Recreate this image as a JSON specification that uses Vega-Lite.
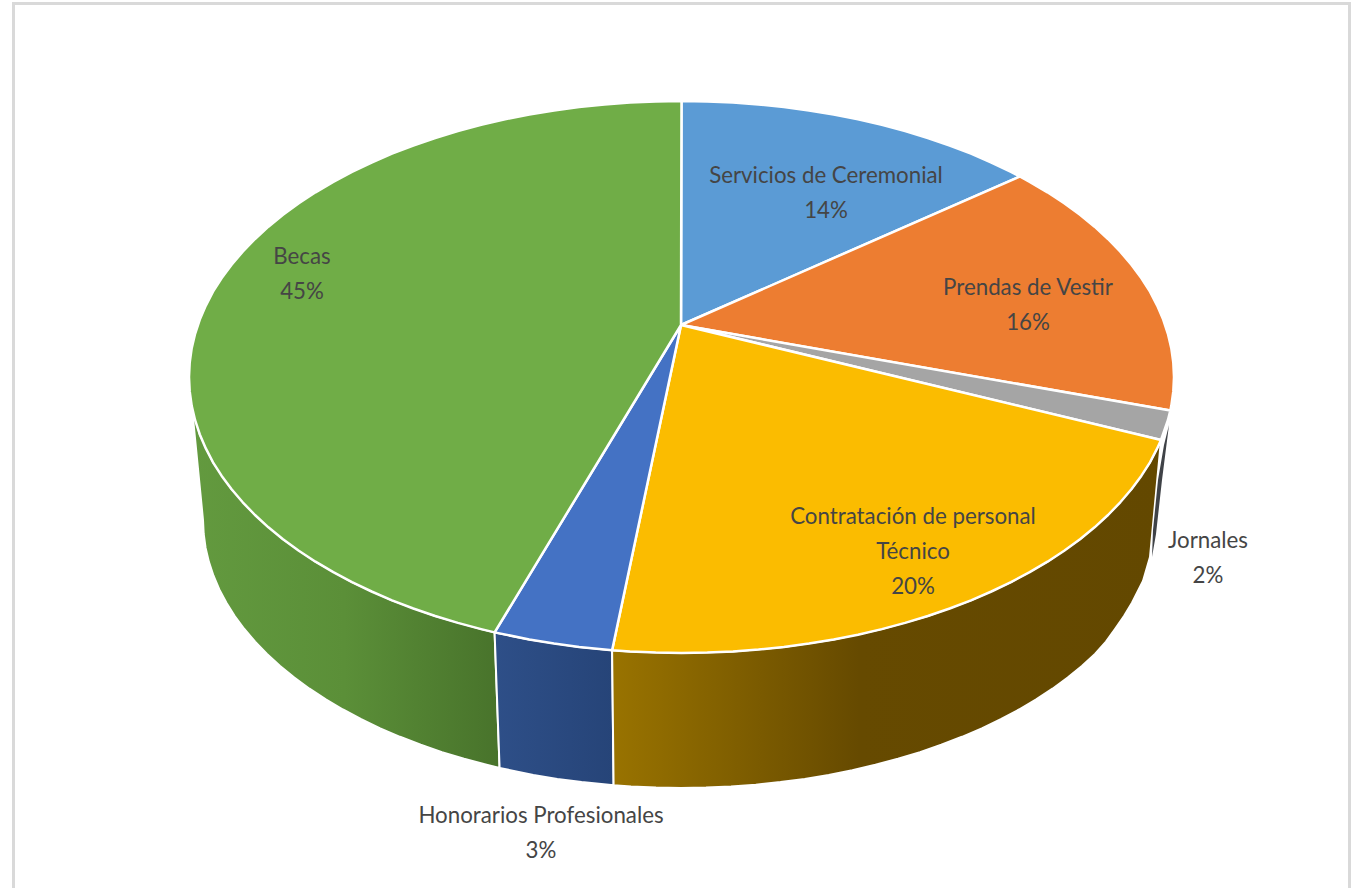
{"$schema":"https://vega.github.io/schema/vega-lite/v6.json","width":1360,"height":888,"padding":0,"autosize":"none","background":"white","view":{"stroke":null},
"datasets":{
"top":[
{"s":"Servicios de Ceremonial","i":0,"x":1,"y":119},{"s":"Servicios de Ceremonial","i":1,"x":1.5,"y":343},{"s":"Servicios de Ceremonial","i":2,"x":27.3,"y":342.6},{"s":"Servicios de Ceremonial","i":3,"x":53,"y":341.5},{"s":"Servicios de Ceremonial","i":4,"x":78.5,"y":339.6},{"s":"Servicios de Ceremonial","i":5,"x":103.9,"y":337},{"s":"Servicios de Ceremonial","i":6,"x":129,"y":333.6},{"s":"Servicios de Ceremonial","i":7,"x":153.7,"y":329.5},{"s":"Servicios de Ceremonial","i":8,"x":178,"y":324.7},{"s":"Servicios de Ceremonial","i":9,"x":201.8,"y":319.1},{"s":"Servicios de Ceremonial","i":10,"x":225.1,"y":312.9},{"s":"Servicios de Ceremonial","i":11,"x":247.8,"y":306},{"s":"Servicios de Ceremonial","i":12,"x":269.7,"y":298.5},{"s":"Servicios de Ceremonial","i":13,"x":291,"y":290.3},{"s":"Servicios de Ceremonial","i":14,"x":311.4,"y":281.5},{"s":"Servicios de Ceremonial","i":15,"x":331,"y":272.1},{"s":"Servicios de Ceremonial","i":16,"x":339.8,"y":267.5},{"s":"Servicios de Ceremonial","i":17,"x":1,"y":119},
{"s":"Prendas de Vestir","i":0,"x":1,"y":119},{"s":"Prendas de Vestir","i":1,"x":339.8,"y":267.5},{"s":"Prendas de Vestir","i":2,"x":349.7,"y":262.2},{"s":"Prendas de Vestir","i":3,"x":367.5,"y":251.7},{"s":"Prendas de Vestir","i":4,"x":384.2,"y":240.7},{"s":"Prendas de Vestir","i":5,"x":400,"y":229.2},{"s":"Prendas de Vestir","i":6,"x":414.6,"y":217.3},{"s":"Prendas de Vestir","i":7,"x":428,"y":205},{"s":"Prendas de Vestir","i":8,"x":440.3,"y":192.3},{"s":"Prendas de Vestir","i":9,"x":451.4,"y":179.2},{"s":"Prendas de Vestir","i":10,"x":461.3,"y":165.9},{"s":"Prendas de Vestir","i":11,"x":470,"y":152.3},{"s":"Prendas de Vestir","i":12,"x":477.2,"y":138.4},{"s":"Prendas de Vestir","i":13,"x":483.2,"y":124.4},{"s":"Prendas de Vestir","i":14,"x":487.9,"y":110.2},{"s":"Prendas de Vestir","i":15,"x":491.3,"y":95.8},{"s":"Prendas de Vestir","i":16,"x":493.3,"y":81.4},{"s":"Prendas de Vestir","i":17,"x":494,"y":67},{"s":"Prendas de Vestir","i":18,"x":493.3,"y":52.6},{"s":"Prendas de Vestir","i":19,"x":491.3,"y":38.2},{"s":"Prendas de Vestir","i":20,"x":490.3,"y":33.4},{"s":"Prendas de Vestir","i":21,"x":1,"y":119},
{"s":"Jornales","i":0,"x":1,"y":119},{"s":"Jornales","i":1,"x":490.3,"y":33.4},{"s":"Jornales","i":2,"x":487.9,"y":23.8},{"s":"Jornales","i":3,"x":481,"y":4},{"s":"Jornales","i":4,"x":1,"y":119},
{"s":"Contratación de personal Técnico","i":0,"x":1,"y":119},{"s":"Contratación de personal Técnico","i":1,"x":481,"y":4},{"s":"Contratación de personal Técnico","i":2,"x":477.2,"y":-4.4},{"s":"Contratación de personal Técnico","i":3,"x":470,"y":-18.3},{"s":"Contratación de personal Técnico","i":4,"x":461.3,"y":-31.9},{"s":"Contratación de personal Técnico","i":5,"x":451.4,"y":-45.2},{"s":"Contratación de personal Técnico","i":6,"x":440.3,"y":-58.3},{"s":"Contratación de personal Técnico","i":7,"x":428,"y":-71},{"s":"Contratación de personal Técnico","i":8,"x":414.6,"y":-83.3},{"s":"Contratación de personal Técnico","i":9,"x":400,"y":-95.2},{"s":"Contratación de personal Técnico","i":10,"x":384.2,"y":-106.7},{"s":"Contratación de personal Técnico","i":11,"x":367.5,"y":-117.7},{"s":"Contratación de personal Técnico","i":12,"x":349.7,"y":-128.2},{"s":"Contratación de personal Técnico","i":13,"x":331,"y":-138.1},{"s":"Contratación de personal Técnico","i":14,"x":311.4,"y":-147.5},{"s":"Contratación de personal Técnico","i":15,"x":291,"y":-156.3},{"s":"Contratación de personal Técnico","i":16,"x":269.7,"y":-164.5},{"s":"Contratación de personal Técnico","i":17,"x":247.8,"y":-172},{"s":"Contratación de personal Técnico","i":18,"x":225.1,"y":-178.9},{"s":"Contratación de personal Técnico","i":19,"x":201.8,"y":-185.1},{"s":"Contratación de personal Técnico","i":20,"x":178,"y":-190.7},{"s":"Contratación de personal Técnico","i":21,"x":153.7,"y":-195.5},{"s":"Contratación de personal Técnico","i":22,"x":129,"y":-199.6},{"s":"Contratación de personal Técnico","i":23,"x":103.9,"y":-203},{"s":"Contratación de personal Técnico","i":24,"x":78.5,"y":-205.6},{"s":"Contratación de personal Técnico","i":25,"x":53,"y":-207.5},{"s":"Contratación de personal Técnico","i":26,"x":27.3,"y":-208.6},{"s":"Contratación de personal Técnico","i":27,"x":1.5,"y":-209},{"s":"Contratación de personal Técnico","i":28,"x":-24.3,"y":-208.6},{"s":"Contratación de personal Técnico","i":29,"x":-50,"y":-207.5},{"s":"Contratación de personal Técnico","i":30,"x":-67.9,"y":-206.2},{"s":"Contratación de personal Técnico","i":31,"x":1,"y":119},
{"s":"Honorarios Profesionales","i":0,"x":1,"y":119},{"s":"Honorarios Profesionales","i":1,"x":-67.9,"y":-206.2},{"s":"Honorarios Profesionales","i":2,"x":-100.9,"y":-203},{"s":"Honorarios Profesionales","i":3,"x":-126,"y":-199.6},{"s":"Honorarios Profesionales","i":4,"x":-150.7,"y":-195.5},{"s":"Honorarios Profesionales","i":5,"x":-185.4,"y":-188.4},{"s":"Honorarios Profesionales","i":6,"x":1,"y":119},
{"s":"Becas","i":0,"x":1,"y":119},{"s":"Becas","i":1,"x":-185.4,"y":-188.4},{"s":"Becas","i":2,"x":-198.8,"y":-185.1},{"s":"Becas","i":3,"x":-222.1,"y":-178.9},{"s":"Becas","i":4,"x":-244.8,"y":-172},{"s":"Becas","i":5,"x":-266.7,"y":-164.5},{"s":"Becas","i":6,"x":-288,"y":-156.3},{"s":"Becas","i":7,"x":-308.4,"y":-147.5},{"s":"Becas","i":8,"x":-328,"y":-138.1},{"s":"Becas","i":9,"x":-346.7,"y":-128.2},{"s":"Becas","i":10,"x":-364.5,"y":-117.7},{"s":"Becas","i":11,"x":-381.2,"y":-106.7},{"s":"Becas","i":12,"x":-397,"y":-95.2},{"s":"Becas","i":13,"x":-411.6,"y":-83.3},{"s":"Becas","i":14,"x":-425,"y":-71},{"s":"Becas","i":15,"x":-437.3,"y":-58.3},{"s":"Becas","i":16,"x":-448.4,"y":-45.2},{"s":"Becas","i":17,"x":-458.3,"y":-31.9},{"s":"Becas","i":18,"x":-467,"y":-18.3},{"s":"Becas","i":19,"x":-474.2,"y":-4.4},{"s":"Becas","i":20,"x":-480.2,"y":9.6},{"s":"Becas","i":21,"x":-484.9,"y":23.8},{"s":"Becas","i":22,"x":-488.3,"y":38.2},{"s":"Becas","i":23,"x":-490.3,"y":52.6},{"s":"Becas","i":24,"x":-491,"y":67},{"s":"Becas","i":25,"x":-490.3,"y":81.4},{"s":"Becas","i":26,"x":-488.3,"y":95.8},{"s":"Becas","i":27,"x":-484.9,"y":110.2},{"s":"Becas","i":28,"x":-480.2,"y":124.4},{"s":"Becas","i":29,"x":-474.2,"y":138.4},{"s":"Becas","i":30,"x":-467,"y":152.3},{"s":"Becas","i":31,"x":-458.3,"y":165.9},{"s":"Becas","i":32,"x":-448.4,"y":179.2},{"s":"Becas","i":33,"x":-437.3,"y":192.3},{"s":"Becas","i":34,"x":-425,"y":205},{"s":"Becas","i":35,"x":-411.6,"y":217.3},{"s":"Becas","i":36,"x":-397,"y":229.2},{"s":"Becas","i":37,"x":-381.2,"y":240.7},{"s":"Becas","i":38,"x":-364.5,"y":251.7},{"s":"Becas","i":39,"x":-346.7,"y":262.2},{"s":"Becas","i":40,"x":-328,"y":272.1},{"s":"Becas","i":41,"x":-308.4,"y":281.5},{"s":"Becas","i":42,"x":-288,"y":290.3},{"s":"Becas","i":43,"x":-266.7,"y":298.5},{"s":"Becas","i":44,"x":-244.8,"y":306},{"s":"Becas","i":45,"x":-222.1,"y":312.9},{"s":"Becas","i":46,"x":-198.8,"y":319.1},{"s":"Becas","i":47,"x":-175,"y":324.7},{"s":"Becas","i":48,"x":-150.7,"y":329.5},{"s":"Becas","i":49,"x":-126,"y":333.6},{"s":"Becas","i":50,"x":-100.9,"y":337},{"s":"Becas","i":51,"x":-75.5,"y":339.6},{"s":"Becas","i":52,"x":-50,"y":341.5},{"s":"Becas","i":53,"x":-24.3,"y":342.6},{"s":"Becas","i":54,"x":1.5,"y":343},{"s":"Becas","i":55,"x":1,"y":119}
],
"sideGreen":[
{"i":0,"x":-491,"y":67},{"i":1,"x":-488.3,"y":38.2},{"i":2,"x":-480.2,"y":9.6},{"i":3,"x":-467,"y":-18.3},{"i":4,"x":-448.4,"y":-45.2},{"i":5,"x":-425,"y":-71},{"i":6,"x":-397,"y":-95.2},{"i":7,"x":-364.5,"y":-117.7},{"i":8,"x":-328,"y":-138.1},{"i":9,"x":-288,"y":-156.3},{"i":10,"x":-244.8,"y":-172},{"i":11,"x":-198.8,"y":-185.1},{"i":12,"x":-185.4,"y":-188.4},{"i":13,"x":-180.4,"y":-324},{"i":14,"x":-193.4,"y":-320.8},{"i":15,"x":-216,"y":-314.8},{"i":16,"x":-238,"y":-308.1},{"i":17,"x":-259.3,"y":-300.8},{"i":18,"x":-280,"y":-292.8},{"i":19,"x":-299.8,"y":-284.3},{"i":20,"x":-318.8,"y":-275.2},{"i":21,"x":-337,"y":-265.5},{"i":22,"x":-354.2,"y":-255.3},{"i":23,"x":-370.5,"y":-244.7},{"i":24,"x":-385.7,"y":-233.5},{"i":25,"x":-399.9,"y":-222},{"i":26,"x":-413,"y":-210},{"i":27,"x":-424.9,"y":-197.7},{"i":28,"x":-435.7,"y":-185},{"i":29,"x":-445.3,"y":-172},{"i":30,"x":-453.6,"y":-158.8},{"i":31,"x":-460.7,"y":-145.4},{"i":32,"x":-466.5,"y":-131.7},{"i":33,"x":-471.1,"y":-117.9},{"i":34,"x":-474.4,"y":-104},{"i":35,"x":-476.3,"y":-90},{"i":36,"x":-477,"y":-76},{"i":37,"x":-491,"y":67}
],
"sideBlue":[
{"i":0,"x":-185.4,"y":-188.4},{"i":1,"x":-150.7,"y":-195.5},{"i":2,"x":-100.9,"y":-203},{"i":3,"x":-67.9,"y":-206.2},{"i":4,"x":-66.4,"y":-341.3},{"i":5,"x":-98.4,"y":-338.1},{"i":6,"x":-122.7,"y":-334.9},{"i":7,"x":-146.7,"y":-330.9},{"i":8,"x":-180.4,"y":-324},{"i":9,"x":-185.4,"y":-188.4}
],
"sideGold":[
{"i":0,"x":-67.9,"y":-206.2},{"i":1,"x":-50,"y":-207.5},{"i":2,"x":1.5,"y":-209},{"i":3,"x":53,"y":-207.5},{"i":4,"x":103.9,"y":-203},{"i":5,"x":153.7,"y":-195.5},{"i":6,"x":201.8,"y":-185.1},{"i":7,"x":247.8,"y":-172},{"i":8,"x":291,"y":-156.3},{"i":9,"x":331,"y":-138.1},{"i":10,"x":367.5,"y":-117.7},{"i":11,"x":400,"y":-95.2},{"i":12,"x":428,"y":-71},{"i":13,"x":451.4,"y":-45.2},{"i":14,"x":470,"y":-18.3},{"i":15,"x":481,"y":4},{"i":16,"x":470,"y":-113},{"i":17,"x":463,"y":-137},{"i":18,"x":452,"y":-158.8},{"i":19,"x":444,"y":-172},{"i":20,"x":435,"y":-185},{"i":21,"x":426,"y":-197.7},{"i":22,"x":415,"y":-210},{"i":23,"x":401.9,"y":-222},{"i":24,"x":387.7,"y":-233.5},{"i":25,"x":372.5,"y":-244.7},{"i":26,"x":356.2,"y":-255.3},{"i":27,"x":339,"y":-265.5},{"i":28,"x":320.8,"y":-275.2},{"i":29,"x":301.8,"y":-284.3},{"i":30,"x":282,"y":-292.8},{"i":31,"x":261.3,"y":-300.8},{"i":32,"x":240,"y":-308.1},{"i":33,"x":218,"y":-314.8},{"i":34,"x":195.4,"y":-320.8},{"i":35,"x":172.3,"y":-326.2},{"i":36,"x":148.7,"y":-330.9},{"i":37,"x":124.7,"y":-334.9},{"i":38,"x":100.4,"y":-338.1},{"i":39,"x":75.8,"y":-340.7},{"i":40,"x":51,"y":-342.5},{"i":41,"x":26,"y":-343.6},{"i":42,"x":1,"y":-344},{"i":43,"x":-24,"y":-343.6},{"i":44,"x":-49,"y":-342.5},{"i":45,"x":-66.4,"y":-341.3},{"i":46,"x":-67.9,"y":-206.2}
],
"sideGrey":[
{"i":0,"x":489,"y":19},{"i":1,"x":482,"y":-36},{"i":2,"x":476,"y":-90},{"i":3,"x":472,"y":-113},{"i":4,"x":473,"y":-86},{"i":5,"x":478,"y":-36},{"i":6,"x":484,"y":-1},{"i":7,"x":489,"y":19}
],
"frame":[
{"i":0,"x":-666.5,"y":-444},{"i":1,"x":-666.5,"y":440.5},{"i":2,"x":669.5,"y":440.5},{"i":3,"x":669.5,"y":-444}
],
"labels":[
{"label":"Servicios de Ceremonial\n14%","x":146,"y":268},
{"label":"Prendas de Vestir\n16%","x":348,"y":156},
{"label":"Contratación de personal\nTécnico\n20%","x":233,"y":-73},
{"label":"Jornales\n2%","x":528,"y":-97},
{"label":"Honorarios Profesionales\n3%","x":-139,"y":-372},
{"label":"Becas\n45%","x":-378,"y":187}
]
},
"encoding":{
"x":{"field":"x","type":"quantitative","scale":{"domain":[-680,680],"nice":false,"zero":false},"axis":null},
"y":{"field":"y","type":"quantitative","scale":{"domain":[-444,444],"nice":false,"zero":false},"axis":null}
},
"layer":[
{"data":{"name":"frame"},"mark":{"type":"line","stroke":"#d9d9d9","strokeWidth":3,"clip":true},"encoding":{"order":{"field":"i"}}},
{"data":{"name":"sideGreen"},"mark":{"type":"line","filled":true,"stroke":"white","strokeWidth":2,"strokeJoin":"round","fill":{"gradient":"linear","x1":0,"x2":1,"y1":0,"y2":0,"stops":[{"offset":0,"color":"#639a3f"},{"offset":0.5,"color":"#5b8f38"},{"offset":1,"color":"#48732b"}]}},"encoding":{"order":{"field":"i"}}},
{"data":{"name":"sideBlue"},"mark":{"type":"line","filled":true,"stroke":"white","strokeWidth":2,"strokeJoin":"round","fill":{"gradient":"linear","x1":0,"x2":1,"y1":0,"y2":0,"stops":[{"offset":0,"color":"#2e4f88"},{"offset":1,"color":"#264478"}]}},"encoding":{"order":{"field":"i"}}},
{"data":{"name":"sideGold"},"mark":{"type":"line","filled":true,"stroke":"white","strokeWidth":2,"strokeJoin":"round","fill":{"gradient":"linear","x1":0,"x2":1,"y1":0,"y2":0,"stops":[{"offset":0,"color":"#997300"},{"offset":0.45,"color":"#664a00"},{"offset":1,"color":"#634800"}]}},"encoding":{"order":{"field":"i"}}},
{"data":{"name":"sideGrey"},"mark":{"type":"line","filled":true,"fill":"#3f4247","strokeWidth":0},"encoding":{"order":{"field":"i"}}},
{"data":{"name":"top"},"mark":{"type":"line","filled":true,"stroke":"white","strokeWidth":2.5,"strokeJoin":"round"},"encoding":{"order":{"field":"i"},"detail":{"field":"s"},"fill":{"field":"s","type":"nominal","legend":null,"scale":{"domain":["Servicios de Ceremonial","Prendas de Vestir","Jornales","Contratación de personal Técnico","Honorarios Profesionales","Becas"],"range":["#5b9bd5","#ed7d31","#a5a5a5","#fbbc00","#4472c4","#70ad47"]}}}},
{"data":{"name":"labels"},"mark":{"type":"text","font":"Lato","fontSize":22.3,"color":"#454545","lineBreak":"\n","lineHeight":35,"align":"center","baseline":"middle"},"encoding":{"text":{"field":"label"}}}
]}
